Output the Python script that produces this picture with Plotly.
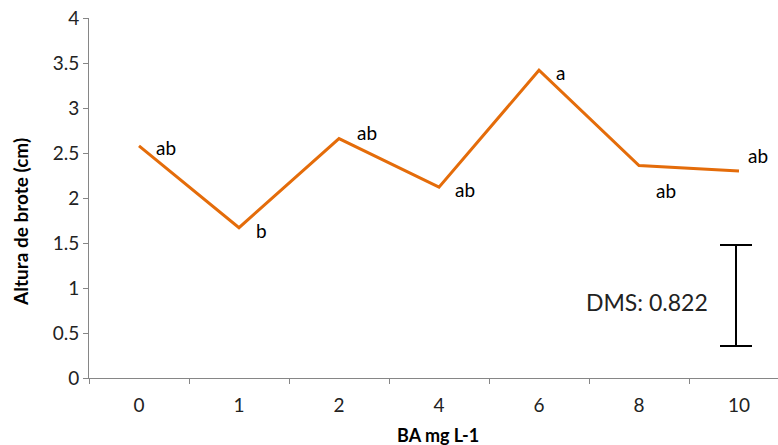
import plotly.graph_objects as go

categories = ["0", "1", "2", "4", "6", "8", "10"]
values = [2.58, 1.67, 2.66, 2.12, 3.42, 2.36, 2.30]
letters = ["ab", "b", "ab", "ab", "a", "ab", "ab"]
y_ticks = [0, 0.5, 1, 1.5, 2, 2.5, 3, 3.5, 4]
dms_label = "DMS: 0.822"
dms_low = 0.356
dms_high = 1.478

# label offsets (px) for each letter annotation
label_offsets = [(27, -2), (22, -3), (28, 6), (26, -2), (21, -2), (27, -25), (19, 16)]

FONT = "Lato, 'Open Sans', sans-serif"
ORANGE = "#E46C0A"
AXIS = "#868686"
TXT = "#222222"

xpos = list(range(len(categories)))

fig = go.Figure()
fig.add_trace(go.Scatter(
    x=xpos, y=values, mode="lines",
    line=dict(color=ORANGE, width=3), showlegend=False, hoverinfo="skip"))

mid = (dms_low + dms_high) / 2
fig.add_trace(go.Scatter(
    x=[xpos[-1] - 0.03], y=[mid], mode="markers",
    marker=dict(size=0.1, color="rgba(0,0,0,0)"),
    error_y=dict(type="data", array=[dms_high - mid], symmetric=True,
                 color="black", thickness=2, width=16),
    showlegend=False, hoverinfo="skip"))

# invisible trace on overlay axis (boundary ticks on x)
fig.add_trace(go.Scatter(x=[], y=[], xaxis="x2", showlegend=False))

for i, (v, t) in enumerate(zip(values, letters)):
    dx, dy = label_offsets[i]
    fig.add_annotation(x=xpos[i], y=v, xref="x", yref="y", text=t, showarrow=False,
                       xshift=dx, yshift=dy, font=dict(family=FONT, size=19, color="#000000"))

fig.add_annotation(x=(647 - 89) / 689, y=(378 - 302) / 360, xref="paper", yref="paper",
                   text=dms_label, showarrow=False, xanchor="center", yanchor="middle",
                   font=dict(family=FONT, size=23, color=TXT))

fig.add_annotation(x=0, y=(378 - 222) / 360, xref="paper", yref="paper", xshift=-69,
                   text="<b>Altura de brote (cm)</b>", textangle=-90, showarrow=False,
                   xanchor="center", yanchor="middle",
                   font=dict(family=FONT, size=19, color="#000000"))
fig.add_annotation(x=(438 - 89) / 689, y=0, xref="paper", yref="paper", yshift=-57,
                   text="<b>BA mg L-1</b>", showarrow=False,
                   xanchor="center", yanchor="middle",
                   font=dict(family=FONT, size=18, color="#000000"))

fig.update_layout(
    width=778, height=445,
    margin=dict(l=89, r=0, t=18, b=67),
    paper_bgcolor="white", plot_bgcolor="white",
    font=dict(family=FONT, size=19, color=TXT),
    xaxis=dict(
        tickmode="array", tickvals=xpos, ticktext=categories,
        range=[-0.5, 6.39], showgrid=False, zeroline=False,
        showline=True, linecolor=AXIS, linewidth=1,
        ticks="", ticklabelstandoff=10,
        tickfont=dict(family=FONT, size=19, color=TXT),
    ),
    xaxis2=dict(
        overlaying="x", matches="x", side="bottom", anchor="y",
        tickmode="array", tickvals=[i - 0.5 for i in range(len(categories) + 1)],
        ticktext=[""] * (len(categories) + 1), ticks="outside", ticklen=5, tickcolor=AXIS,
        showgrid=False, zeroline=False, showline=False,
    ),
    yaxis=dict(
        range=[0, 4], tickvals=y_ticks, showgrid=False, zeroline=False,
        showline=True, linecolor=AXIS, linewidth=1,
        ticks="outside", ticklen=5, tickcolor=AXIS,
        ticksuffix="\u00a0\u00a0\u00a0",
        tickfont=dict(family=FONT, size=19, color=TXT),
    ),
)

fig.write_html("out.html")
